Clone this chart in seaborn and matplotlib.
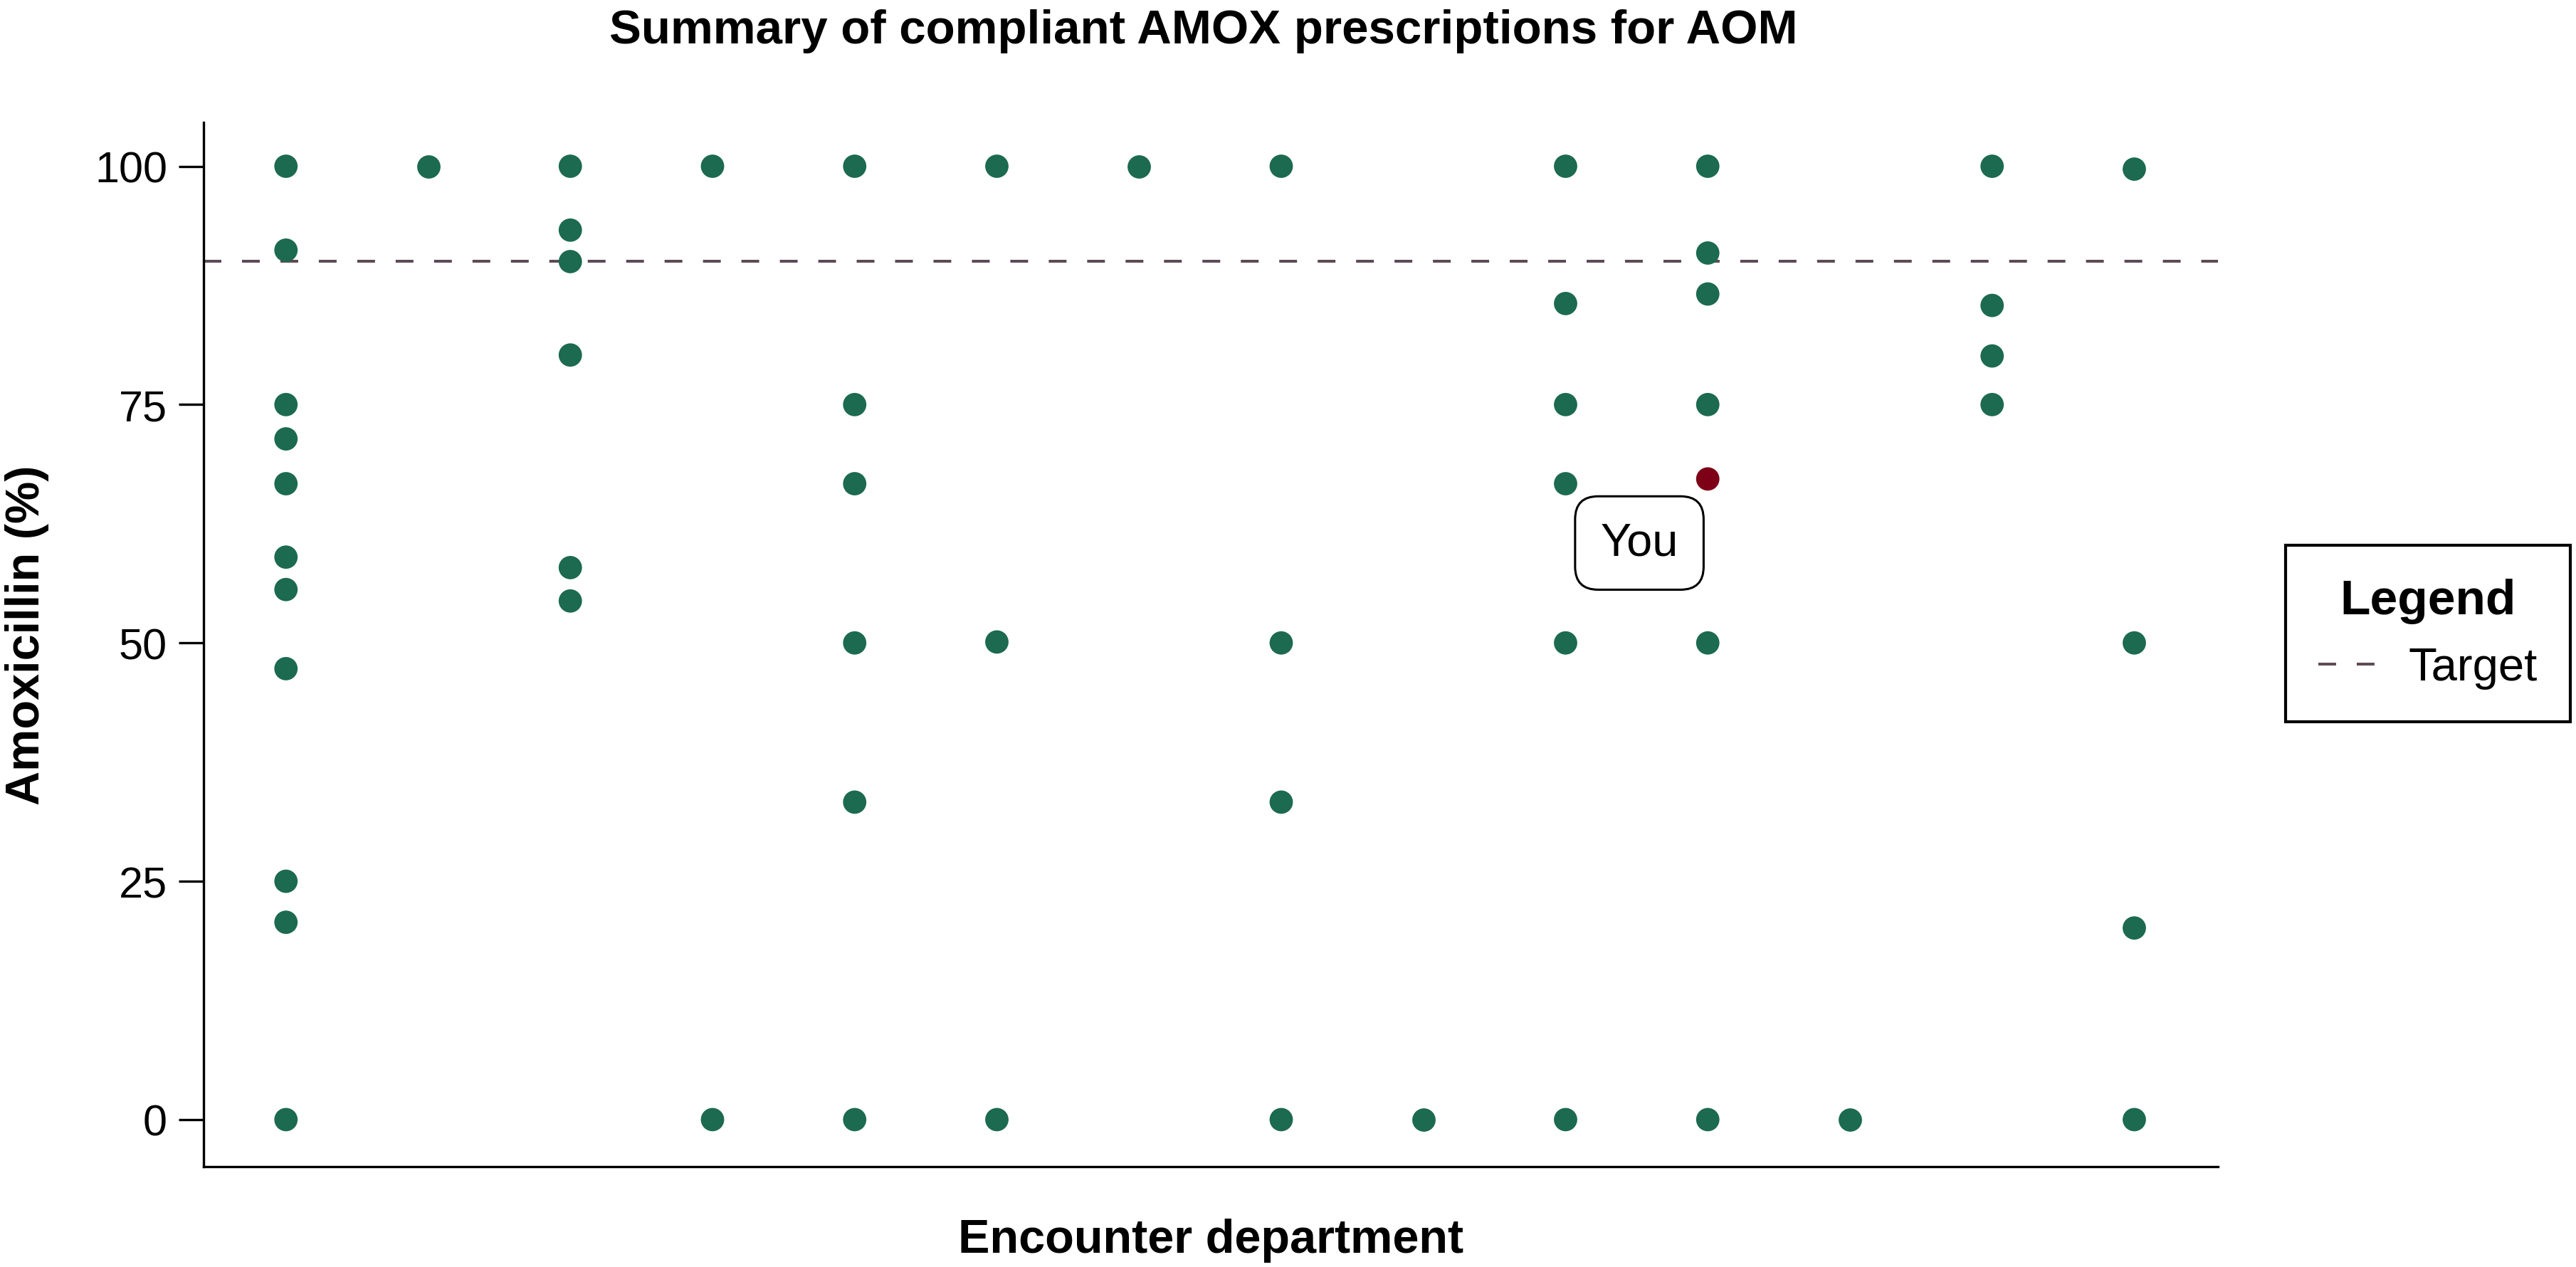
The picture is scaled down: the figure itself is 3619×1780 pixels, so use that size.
import pandas as pd
import matplotlib
matplotlib.use("Agg")
import matplotlib.pyplot as plt
import seaborn as sns

# ---- data ----
departments = ["D1", "D2", "D3", "D4", "D5", "D6", "D7",
               "D8", "D9", "D10", "D11", "D12", "D13", "D14"]
d1 = [100, 91.2, 75, 71.4, 66.7, 59.0, 55.6, 47.3, 25, 20.7, 0]
d2 = [100]
d3 = [100, 93.3, 90, 80.2, 57.9, 54.4]
d4 = [100, 0]
d5 = [100, 75, 66.7, 50, 33.3, 0]
d6 = [100, 50.1, 0]
d7 = [100]
d8 = [100, 50, 33.3, 0]
d9 = [0]
d10 = [100, 85.6, 75, 66.7, 50, 0]
d11 = [100, 90.9, 86.6, 75, 50, 0]
d12 = [0]
d13 = [100, 85.4, 80.1, 75]
d14 = [99.7, 50, 20.1, 0]
dept_values = [d1, d2, d3, d4, d5, d6, d7, d8, d9, d10, d11, d12, d13, d14]

you_dept = "D11"
you_value = 67.2
target = 90

y_ticks = [0, 25, 50, 75, 100]

green = "#1c6a4f"
red = "#7d0017"
line_col = "#5e4b56"

# long table for seaborn
rows = []
for dep, vals in zip(departments, dept_values):
    for v in vals:
        rows.append({"department": dep, "value": v, "group": "Others"})
rows.append({"department": you_dept, "value": you_value, "group": "You"})
df = pd.DataFrame(rows)

sns.set_style("white")
plt.rcParams["font.family"] = ["Liberation Sans", "DejaVu Sans"]
plt.rcParams["text.color"] = "black"
plt.rcParams["axes.labelcolor"] = "black"
plt.rcParams["ytick.color"] = "black"
plt.rcParams["xtick.color"] = "black"

fig = plt.figure(figsize=(3619 / 200, 1781 / 200), dpi=200)
ax = fig.add_axes([0.0790, 0.0792, 0.7821, 0.8237])

sns.stripplot(data=df, x="department", y="value", hue="group",
              order=departments, palette={"Others": green, "You": red},
              jitter=False, dodge=False, size=11.8, linewidth=0,
              legend=False, ax=ax, zorder=3)

ax.axhline(target, color=line_col, lw=1.45, dashes=(6.2, 7.2),
           label="Target", zorder=2)

# "You" callout
ax.annotate("You", xy=(departments.index(you_dept), you_value),
            xytext=(-34.6, -32.4), textcoords="offset points",
            ha="center", va="center", fontsize=23.3, color="black",
            bbox=dict(boxstyle="round,pad=0.55,rounding_size=0.5",
                      fc="white", ec="black", lw=1.1), zorder=4)

ax.set_xlim(-0.58, 13.59)
ax.set_ylim(-4.93, 104.6)
ax.set_yticks(y_ticks)
ax.set_xticks([])

for s in ["top", "right"]:
    ax.spines[s].set_visible(False)
for s in ["left", "bottom"]:
    ax.spines[s].set_linewidth(1.2)
    ax.spines[s].set_color("black")

ax.tick_params(axis="y", length=12.5, width=1.2, labelsize=22, pad=5.8,
               color="black", labelcolor="black", left=True)

ax.set_xlabel("Encounter department", fontsize=24, fontweight="bold")
ax.xaxis.label.set_va("center")
ax.xaxis.set_label_coords(0.5, -0.0702)
ax.set_ylabel("Amoxicillin (%)", fontsize=24, fontweight="bold")
ax.yaxis.label.set_va("center")
ax.yaxis.set_label_coords(-0.0875, 0.51)

fig.text(0.4673, 1 - 44 / 1781, "Summary of compliant AMOX prescriptions for AOM",
         ha="center", va="center", fontsize=24.2, fontweight="bold")

leg = fig.legend(handles=[ax.get_lines()[-1]], labels=["Target"],
                 loc="center", bbox_to_anchor=(0.9425, 0.4997),
                 title="Legend", fontsize=23.5,
                 title_fontproperties={"weight": "bold", "size": 25},
                 frameon=True, fancybox=False, framealpha=1,
                 edgecolor="black", borderpad=0.7, handlelength=1.22,
                 handletextpad=0.72, labelspacing=0.5)
leg.get_frame().set_linewidth(1.5)
for t in leg.get_texts():
    t.set_color("black")
leg.get_title().set_color("black")

fig.savefig("out.png", dpi=200, facecolor="white")
